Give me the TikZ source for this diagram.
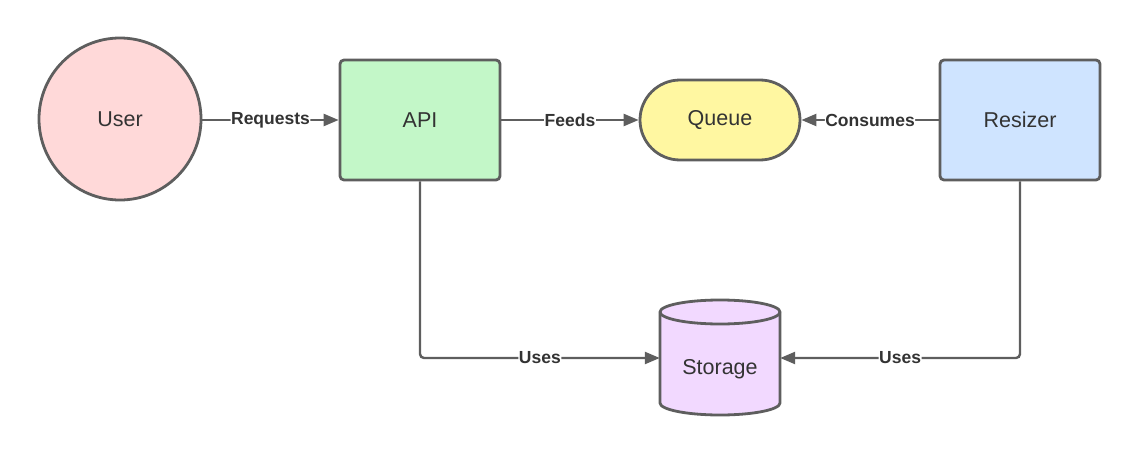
\documentclass[tikz,border=0pt]{standalone}
\usepackage{fontspec}
\setmainfont{Liberation Sans}
\usetikzlibrary{arrows.meta}
\definecolor{edgecol}{HTML}{5E5E5E}
\definecolor{txtcol}{HTML}{333333}
\definecolor{userfill}{HTML}{FFD9D9}
\definecolor{apifill}{HTML}{C3F7C8}
\definecolor{queuefill}{HTML}{FFF7A1}
\definecolor{resfill}{HTML}{CFE4FF}
\definecolor{storfill}{HTML}{F2D9FF}
\tikzset{
  shapeline/.style={draw=edgecol, line width=2.8pt},
  nodetext/.style={text=txtcol, font=\fontsize{21.5}{25}\selectfont},
  boxnode/.style={shapeline, nodetext, rectangle, rounded corners=4pt, minimum width=160pt, minimum height=120pt},
  conn/.style={draw=edgecol, line width=2.4pt, rounded corners=4pt, -{Triangle[length=15pt,width=12pt]}},
  lbl/.style={fill=white, text=txtcol, inner sep=0.5pt, font=\bfseries\fontsize{17.5}{20}\selectfont}
}
\begin{document}
\begin{tikzpicture}[x=1pt,y=-1pt]
\useasboundingbox (0,0) rectangle (1140,460);
\node[shapeline, nodetext, circle, fill=userfill, minimum size=162pt, inner sep=0pt] (user) at (120,119) {User};
\node[boxnode, fill=apifill] (api) at (420,120) {API};
\node[shapeline, nodetext, rectangle, rounded corners=40pt, fill=queuefill, minimum width=160pt, minimum height=80pt] (queue) at (720,120) {Queue};
\node[boxnode, fill=resfill] (resizer) at (1020,120) {Resizer};
% storage cylinder
\node[minimum width=120pt, minimum height=115pt, inner sep=0pt] (storage) at (720,358) {};
\draw[shapeline, fill=storfill] (660,312) -- (660,403) arc[start angle=180, end angle=360, x radius=60pt, y radius=12pt] -- (780,312) arc[start angle=0, end angle=180, x radius=60pt, y radius=12pt] -- cycle;
\draw[shapeline] (660,312) arc[start angle=180, end angle=360, x radius=60pt, y radius=12pt];
\node[nodetext] (storagetext) at (720,369) {Storage};
% connectors
\draw[conn] (user.east |- api.west) -- node[lbl] {Requests} (api.west);
\draw[conn] (api.east) -- node[lbl] {Feeds} (queue.west);
\draw[conn] (resizer.west) -- node[lbl] {Consumes} (queue.east);
\draw[conn] (api.south) |- node[lbl, pos=0.75] {Uses} (storage.west);
\draw[conn] (resizer.south) |- node[lbl, pos=0.75] {Uses} (storage.east);
\end{tikzpicture}
\end{document}
